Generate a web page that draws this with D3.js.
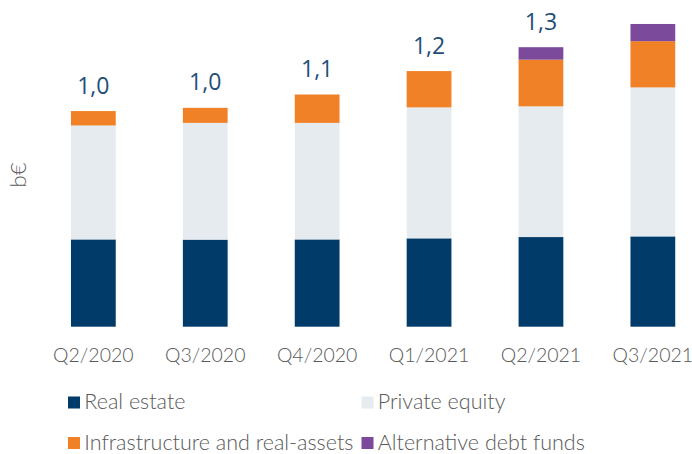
<!DOCTYPE html>
<html>
<head>
<meta charset="utf-8">
<script src="https://cdn.jsdelivr.net/npm/d3@7"></script>
<style>
  body { margin: 0; background: #fff; }
  .tick text { font-family: Lato, "Open Sans", sans-serif; font-weight: 300; fill: #595959; }
</style>
</head>
<body>
<div id="chart"></div>
<script>
let quarters = ["Q2/2020", "Q3/2020", "Q4/2020", "Q1/2021", "Q2/2021", "Q3/2021"]
let realEstate = [0.406, 0.405, 0.406, 0.411, 0.417, 0.420]
let privateEquity = [0.530, 0.543, 0.542, 0.609, 0.608, 0.693]
let infrastructure = [0.067, 0.070, 0.132, 0.169, 0.217, 0.215]
let altDebt = [0, 0, 0, 0, 0.058, 0.080]
let totalLabels = ["1,0", "1,0", "1,1", "1,2", "1,3", ""]

let seriesNames = ["Real estate", "Private equity", "Infrastructure and real-assets", "Alternative debt funds"]
let seriesColors = ["#003b69", "#e6ebef", "#f08126", "#7b4a9a"]

let width = 692
let height = 454

let svg = d3.select("#chart")
    .append("svg")
    .attr("width", width)
    .attr("height", height)

let rows = quarters.map(function(q, i){
    return {
        quarter: q,
        re: realEstate[i],
        pe: privateEquity[i],
        infra: infrastructure[i],
        alt: altDebt[i]
    }
})

let keys = ["re", "pe", "infra", "alt"]
let stacked = d3.stack().keys(keys)(rows)

let xScale = d3.scaleBand()
    .domain(quarters)
    .range([37.4, 708.8])
    .paddingInner(0.6)
    .paddingOuter(0.3)

let baseY = 326.7
let yScale = d3.scaleLinear()
    .domain([0, 1.5])
    .range([baseY, baseY - 1.5 * 215])

// stacked bars
svg.append("g")
    .selectAll("g")
    .data(stacked)
    .enter()
    .append("g")
    .attr("fill", function(d, i){ return seriesColors[i] })
    .selectAll("rect")
    .data(function(d){ return d.filter(function(p){ return p[1] - p[0] > 0 }) })
    .enter()
    .append("rect")
    .attr("x", function(d){ return xScale(d.data.quarter) })
    .attr("width", xScale.bandwidth())
    .attr("y", function(d){ return yScale(d[1]) })
    .attr("height", function(d){ return yScale(d[0]) - yScale(d[1]) })

// totals on top
svg.append("g")
    .selectAll("text")
    .data(rows)
    .enter()
    .append("text")
    .attr("x", function(d){ return xScale(d.quarter) + xScale.bandwidth() / 2 })
    .attr("y", function(d){ return yScale(d.re + d.pe + d.infra + d.alt) - 17.5 })
    .attr("text-anchor", "middle")
    .attr("font-family", "'Open Sans', sans-serif")
    .attr("font-size", 23)
    .attr("fill", "#1f4e79")
    .text(function(d, i){ return totalLabels[i] })

// x axis
let xAxis = d3.axisBottom(xScale).tickSize(0).tickPadding(21)
svg.append("g")
    .attr("class", "xAxis")
    .attr("transform", `translate(0, ${baseY})`)
    .call(xAxis)
    .call(function(g){ g.select(".domain").remove() })
    .selectAll("text")
    .attr("font-size", 19.5)

// y axis title
svg.append("text")
    .attr("transform", "translate(26, 175) rotate(-90)")
    .attr("text-anchor", "middle")
    .attr("font-family", "Lato, 'Open Sans', sans-serif")
    .attr("font-weight", 300)
    .attr("font-size", 22)
    .attr("fill", "#595959")
    .text("b€")

// legend
let legendPos = [[68, 402.5], [361.5, 402.5], [68, 443], [361.5, 443]]
let legend = svg.append("g")
    .selectAll("g")
    .data(seriesNames)
    .enter()
    .append("g")
    .attr("transform", function(d, i){ return `translate(${legendPos[i][0]}, ${legendPos[i][1]})` })

legend.append("rect")
    .attr("x", 0)
    .attr("y", -6)
    .attr("width", 12)
    .attr("height", 12)
    .attr("fill", function(d, i){ return seriesColors[i] })

legend.append("text")
    .attr("x", 16.3)
    .attr("y", 6.5)
    .attr("font-family", "Lato, 'Open Sans', sans-serif")
    .attr("font-weight", 300)
    .attr("font-size", 21.5)
    .attr("fill", "#595959")
    .text(function(d){ return d })
</script>
</body>
</html>
